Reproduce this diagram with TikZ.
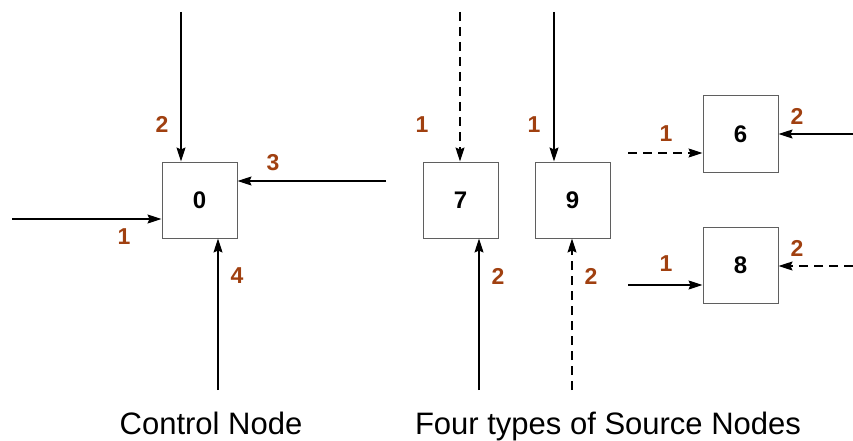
\documentclass[tikz,border=0pt]{standalone}
\usepackage{fontspec}
\setmainfont{Liberation Sans}
\usetikzlibrary{arrows.meta}
\definecolor{portbrown}{RGB}{160, 64, 16}
\definecolor{boxgray}{RGB}{95, 95, 95}

\begin{document}
\begin{tikzpicture}[
    x=1pt, y=-1pt,
    box/.style={rectangle, draw=boxgray, line width=1pt, minimum width=75pt, minimum height=76pt, inner sep=0pt, font=\fontsize{24}{26}\selectfont\bfseries},
    arrow/.style={-{Stealth[length=14pt, width=9pt, inset=2pt]}, line width=1.3pt},
    dashline/.style={dash pattern=on 9pt off 6pt},
    port/.style={font=\fontsize{23}{25}\selectfont\bfseries, text=portbrown},
    caption/.style={font=\fontsize{31}{36}\selectfont, anchor=base}
]
    \useasboundingbox (0,0) rectangle (853,441);

    % Control node
    \node[box] (ctrl) at (199.5, 200) {0};
    \coordinate (ctrl1) at (12, 219);
    \coordinate (ctrl2) at (181, 12);
    \coordinate (ctrl3) at (386, 181);
    \coordinate (ctrl4) at (218, 390);
    \draw[arrow] (ctrl1) -- (ctrl1 -| ctrl.west);
    \draw[arrow] (ctrl2) -- (ctrl2 |- ctrl.north);
    \draw[arrow] (ctrl3) -- (ctrl3 -| ctrl.east);
    \draw[arrow] (ctrl4) -- (ctrl4 |- ctrl.south);
    \node[port] (p01) at (124, 237) {1};
    \node[port] (p02) at (162, 124) {2};
    \node[port] (p03) at (273, 163) {3};
    \node[port] (p04) at (237, 276) {4};

    % Source node 7
    \node[box] (src7) at (460.5, 200) {7};
    \coordinate (src7a) at (460, 12);
    \coordinate (src7b) at (479, 390);
    \draw[arrow, dashline] (src7a) -- (src7a |- src7.north);
    \draw[arrow] (src7b) -- (src7b |- src7.south);
    \node[port] (p71) at (422, 125) {1};
    \node[port] (p72) at (498, 276) {2};

    % Source node 9
    \node[box] (src9) at (572.5, 200) {9};
    \coordinate (src9a) at (554, 12);
    \coordinate (src9b) at (572, 390);
    \draw[arrow] (src9a) -- (src9a |- src9.north);
    \draw[arrow, dashline] (src9b) -- (src9b |- src9.south);
    \node[port] (p91) at (534, 125) {1};
    \node[port] (p92) at (591, 276) {2};

    % Source node 6
    \node[box] (src6) at (740.5, 134) {6};
    \coordinate (src6a) at (628, 153);
    \coordinate (src6b) at (853, 134);
    \draw[arrow, dashline] (src6a) -- (src6a -| src6.west);
    \draw[arrow] (src6b) -- (src6b -| src6.east);
    \node[port] (p61) at (666, 134) {1};
    \node[port] (p62) at (797, 116) {2};

    % Source node 8
    \node[box] (src8) at (740.5, 265.5) {8};
    \coordinate (src8a) at (628, 285);
    \coordinate (src8b) at (853, 266);
    \draw[arrow] (src8a) -- (src8a -| src8.west);
    \draw[arrow, dashline] (src8b) -- (src8b -| src8.east);
    \node[port] (p81) at (666, 264) {1};
    \node[port] (p82) at (797, 248) {2};

    % Captions
    \node[caption] (capctrl) at (211, 434) {Control Node};
    \node[caption] (capsrc) at (608, 434) {Four types of Source Nodes};
\end{tikzpicture}
\end{document}
